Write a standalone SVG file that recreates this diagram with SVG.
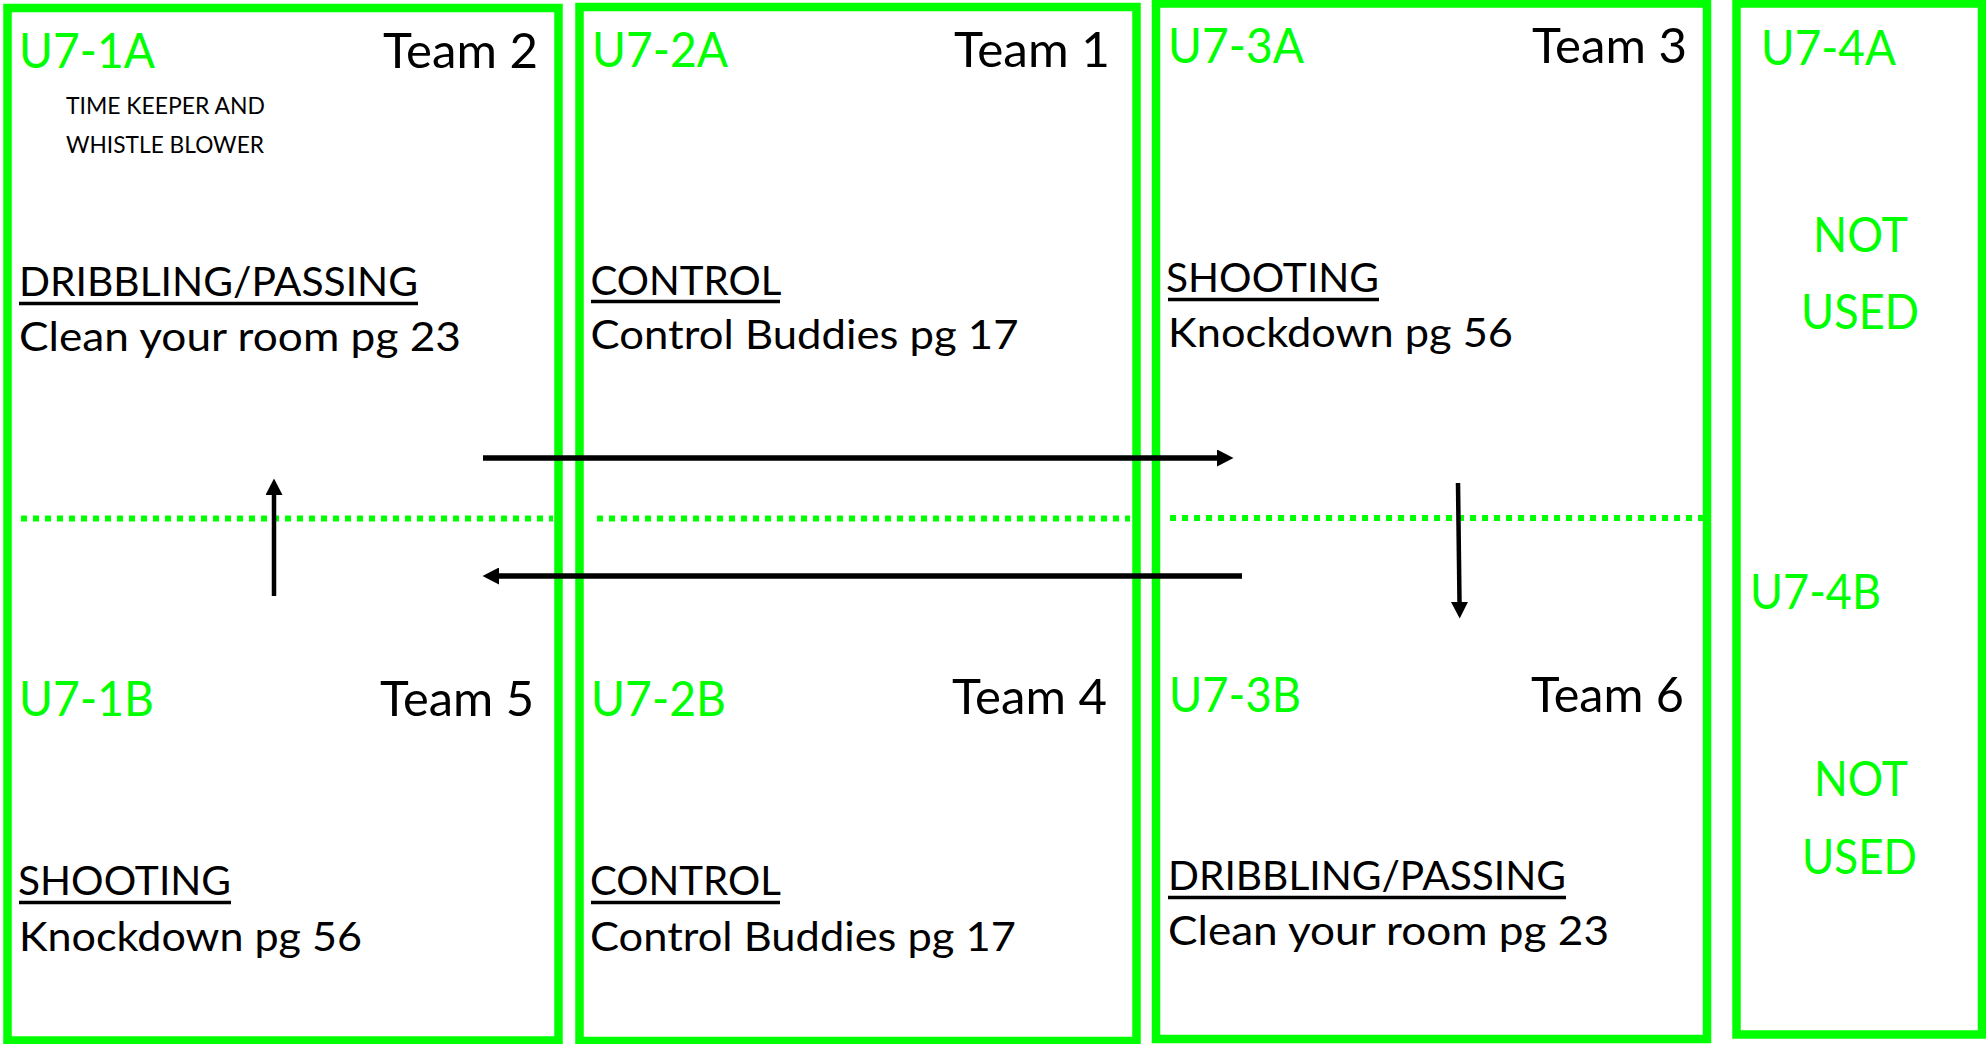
<svg xmlns="http://www.w3.org/2000/svg" width="1986" height="1044" viewBox="0 0 1986 1044">
<defs>
<style>
.box{fill:none;stroke:#00FF00;stroke-width:8.5}
.mid{fill:none;stroke:#00FF00;stroke-width:6;stroke-dasharray:6 6}
.t{font-family:Lato,"Liberation Sans",sans-serif;}
.lab{font-size:48px;fill:#00FF00}
.team{font-size:48px;fill:#000}
.act{font-size:41px;fill:#000}
.small{font-size:24px;fill:#000}
.ul{stroke:#000;stroke-width:3.5}
.arr{stroke:#000;fill:none}
</style>
<marker id="ah" markerUnits="userSpaceOnUse" markerWidth="17" markerHeight="17" refX="0" refY="8.5" orient="auto" viewBox="0 0 17 17">
<path d="M0,0 L16.5,8.5 L0,17 Z" fill="#000"/>
</marker>
</defs>
<rect width="1986" height="1044" fill="#fff"/>

<g id="field1">
<rect class="box" x="7.5" y="8" width="551" height="1032.5"/>
<line class="mid" x1="21" y1="518.5" x2="553" y2="518.5"/>
<g id="U7-1A" class="t">
<text class="lab" x="19" y="68" textLength="136" lengthAdjust="spacingAndGlyphs">U7-1A</text>
<text class="team" x="383" y="68" textLength="155" lengthAdjust="spacingAndGlyphs">Team 2</text>
<text class="small" x="66" y="114" textLength="199" lengthAdjust="spacingAndGlyphs">TIME KEEPER AND</text>
<text class="small" x="66" y="153" textLength="198" lengthAdjust="spacingAndGlyphs">WHISTLE BLOWER</text>
<text class="act" x="19" y="296" textLength="399" lengthAdjust="spacingAndGlyphs">DRIBBLING/PASSING</text>
<line class="ul" x1="19" y1="303.5" x2="418" y2="303.5"/>
<text class="act" x="19" y="351" textLength="442" lengthAdjust="spacingAndGlyphs">Clean your room pg 23</text>
</g>
<g id="U7-1B" class="t">
<text class="lab" x="19" y="716" textLength="135" lengthAdjust="spacingAndGlyphs">U7-1B</text>
<text class="team" x="380" y="716" textLength="154" lengthAdjust="spacingAndGlyphs">Team 5</text>
<text class="act" x="18" y="895" textLength="213" lengthAdjust="spacingAndGlyphs">SHOOTING</text>
<line class="ul" x1="19" y1="902.5" x2="231" y2="902.5"/>
<text class="act" x="19" y="951" textLength="343" lengthAdjust="spacingAndGlyphs">Knockdown pg 56</text>
</g>
</g>

<g id="field2">
<rect class="box" x="579.5" y="7" width="557" height="1034"/>
<line class="mid" x1="597" y1="518.5" x2="1130" y2="518.5"/>
<g id="U7-2A" class="t">
<text class="lab" x="592" y="67" textLength="136" lengthAdjust="spacingAndGlyphs">U7-2A</text>
<text class="team" x="954" y="67" textLength="156" lengthAdjust="spacingAndGlyphs">Team 1</text>
<text class="act" x="590.5" y="295" textLength="191" lengthAdjust="spacingAndGlyphs">CONTROL</text>
<line class="ul" x1="591" y1="301.5" x2="780" y2="301.5"/>
<text class="act" x="590.5" y="349" textLength="428" lengthAdjust="spacingAndGlyphs">Control Buddies pg 17</text>
</g>
<g id="U7-2B" class="t">
<text class="lab" x="591" y="716" textLength="135" lengthAdjust="spacingAndGlyphs">U7-2B</text>
<text class="team" x="952" y="714" textLength="155" lengthAdjust="spacingAndGlyphs">Team 4</text>
<text class="act" x="590" y="895" textLength="191" lengthAdjust="spacingAndGlyphs">CONTROL</text>
<line class="ul" x1="591" y1="902.5" x2="780" y2="902.5"/>
<text class="act" x="590" y="951" textLength="426" lengthAdjust="spacingAndGlyphs">Control Buddies pg 17</text>
</g>
</g>

<g id="field3">
<rect class="box" x="1156" y="3.5" width="551" height="1035.5"/>
<line class="mid" x1="1170" y1="518" x2="1703" y2="518"/>
<g id="U7-3A" class="t">
<text class="lab" x="1168" y="63" textLength="136" lengthAdjust="spacingAndGlyphs">U7-3A</text>
<text class="team" x="1532" y="63" textLength="155" lengthAdjust="spacingAndGlyphs">Team 3</text>
<text class="act" x="1166" y="292" textLength="213" lengthAdjust="spacingAndGlyphs">SHOOTING</text>
<line class="ul" x1="1168" y1="299.5" x2="1379" y2="299.5"/>
<text class="act" x="1168" y="347" textLength="345" lengthAdjust="spacingAndGlyphs">Knockdown pg 56</text>
</g>
<g id="U7-3B" class="t">
<text class="lab" x="1169" y="712" textLength="132" lengthAdjust="spacingAndGlyphs">U7-3B</text>
<text class="team" x="1531" y="712" textLength="153" lengthAdjust="spacingAndGlyphs">Team 6</text>
<text class="act" x="1168" y="890" textLength="398" lengthAdjust="spacingAndGlyphs">DRIBBLING/PASSING</text>
<line class="ul" x1="1168" y1="897.5" x2="1566" y2="897.5"/>
<text class="act" x="1168" y="945" textLength="441" lengthAdjust="spacingAndGlyphs">Clean your room pg 23</text>
</g>
</g>

<g id="field4">
<rect class="box" x="1736.5" y="3.5" width="245.5" height="1031"/>
<g id="U7-4A" class="t">
<text class="lab" x="1761" y="65" textLength="135" lengthAdjust="spacingAndGlyphs">U7-4A</text>
<text class="lab" x="1813" y="252" textLength="95" lengthAdjust="spacingAndGlyphs">NOT</text>
<text class="lab" x="1801" y="329" textLength="118" lengthAdjust="spacingAndGlyphs">USED</text>
</g>
<g id="U7-4B" class="t">
<text class="lab" x="1750" y="609" textLength="131" lengthAdjust="spacingAndGlyphs">U7-4B</text>
<text class="lab" x="1814" y="796" textLength="94" lengthAdjust="spacingAndGlyphs">NOT</text>
<text class="lab" x="1802" y="874" textLength="115" lengthAdjust="spacingAndGlyphs">USED</text>
</g>
</g>

<g id="connectors">
<line class="arr" x1="483" y1="458" x2="1217" y2="458" stroke-width="5.5" marker-end="url(#ah)"/>
<line class="arr" x1="1242" y1="576" x2="499" y2="576" stroke-width="5.5" marker-end="url(#ah)"/>
<line class="arr" x1="274" y1="596" x2="274" y2="495" stroke-width="4.5" marker-end="url(#ah)"/>
<line class="arr" x1="1458" y1="483" x2="1459.5" y2="602" stroke-width="4.5" marker-end="url(#ah)"/>
</g>
</svg>
